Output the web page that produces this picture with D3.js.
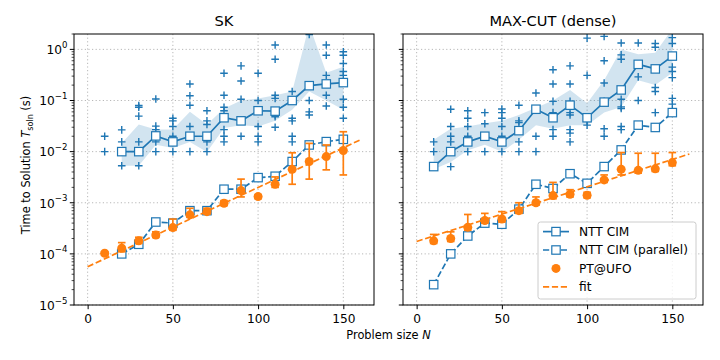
<!DOCTYPE html>
<html><head><meta charset="utf-8">
<script src="https://cdn.jsdelivr.net/npm/d3@7"></script>
<style>body{margin:0;background:#fff} text{font-family:"DejaVu Sans",sans-serif;fill:#000}</style>
</head><body><svg id="c" width="720" height="360"></svg>
<script>
// ---------------- data ----------------
const sizes = [10,20,30,40,50,60,70,80,90,100,110,120,130,140,150];
const xTicks = [0,50,100,150];
const yTicks = [1e-5,1e-4,1e-3,1e-2,1e-1,1];
const yTickLabels = ["\u22125","\u22124","\u22123","\u22122","\u22121","0"];
const panelTitles = ["SK","MAX-CUT (dense)"];
const legendLabels = ["NTT CIM","NTT CIM (parallel)","PT@UFO","fit"];

// SK
const skCimN = [20,30,40,50,60,70,80,90,100,110,120,130,140,150];
const skCim = [0.01,0.01,0.0203,0.0155,0.020,0.020,0.046,0.040,0.063,0.062,0.10,0.195,0.211,0.224];
const skBandLo = [0.0053,0.0053,0.0137,0.0118,0.0155,0.0098,0.029,0.033,0.031,0.040,0.066,0.15,0.10,0.066];
const skBandHi = [0.0146,0.034,0.027,0.027,0.060,0.034,0.070,0.10,0.11,0.127,0.15,3.0,0.35,0.46];
const skParN = [20,30,40,50,60,70,80,90,100,110,120,130,140,150];
const skPar = [1.0e-4,1.54e-4,4.2e-4,4.0e-4,7.0e-4,7.0e-4,1.84e-3,1.84e-3,3.1e-3,3.3e-3,6.4e-3,0.0135,0.0157,0.0174];
const skPt = [1.03e-4,1.29e-4,1.8e-4,2.34e-4,3.27e-4,5.8e-4,6.7e-4,9.8e-4,1.73e-3,1.32e-3,2.3e-3,4.5e-3,6.4e-3,8.0e-3,1.05e-2];
const skPtLo = [0.95e-4,1.1e-4,1.6e-4,2.1e-4,2.9e-4,5.2e-4,6.0e-4,8.8e-4,1.3e-3,1.2e-3,2.0e-3,2.3e-3,2.9e-3,4.4e-3,3.5e-3];
const skPtHi = [1.1e-4,1.66e-4,2.11e-4,2.7e-4,4.8e-4,7.8e-4,7.8e-4,1.1e-3,2.9e-3,1.45e-3,3.2e-3,9.5e-3,1.45e-2,1.35e-2,2.45e-2];
const skFitN = [0,160];
const skFit = [5.6e-5,0.017];
const skInst = [
  [10,[0.02,0.01]],
  [20,[0.0266,0.0155,0.01,0.0053]],
  [30,[0.08,0.074,0.0495,0.0155,0.01,0.0053]],
  [40,[0.107,0.0316,0.027,0.0155,0.01]],
  [50,[0.045,0.04,0.031,0.02,0.0155,0.01]],
  [60,[0.211,0.124,0.081,0.031,0.02,0.01]],
  [70,[0.063,0.04,0.034,0.02,0.0155,0.01]],
  [80,[0.342,0.127,0.074,0.063,0.027,0.02,0.0155]],
  [90,[0.475,0.24,0.106,0.02]],
  [100,[0.342,0.1,0.0656,0.031,0.02,0.0155]],
  [110,[1.22,0.64,0.127,0.11,0.052,0.048,0.03]],
  [120,[0.15,0.045,0.04,0.02,0.0155]],
  [130,[1.95,0.1,0.06,0.052]],
  [140,[1.22,0.77,0.31,0.127,0.078]],
  [150,[0.9,0.77,0.53,0.37,0.31,0.106,0.074,0.045]]
];

// MAX-CUT (dense)
const mcCimN = sizes;
const mcCim = [5.1e-3,0.01,0.0155,0.02,0.0155,0.0257,0.0675,0.046,0.081,0.046,0.093,0.161,0.51,0.415,0.74];
const mcBandLo = [0.0045,0.0063,0.0107,0.0137,0.0099,0.017,0.033,0.028,0.033,0.033,0.058,0.075,0.25,0.20,0.35];
const mcBandHi = [0.017,0.028,0.031,0.036,0.040,0.052,0.072,0.10,0.16,0.088,0.25,1.0,0.8,0.86,2.5];
const mcParN = sizes;
const mcPar = [2.5e-5,1.0e-4,2.24e-4,4.0e-4,3.8e-4,7.5e-4,2.3e-3,1.9e-3,3.7e-3,2.4e-3,5.1e-3,0.0108,0.033,0.0297,0.058];
const mcPt = [1.8e-4,2.0e-4,3.3e-4,4.5e-4,4.8e-4,7.0e-4,1.0e-3,1.38e-3,1.47e-3,1.4e-3,2.8e-3,4.5e-3,4.3e-3,4.6e-3,6.1e-3];
const mcPtLo = [1.6e-4,1.75e-4,2.9e-4,4.0e-4,4.2e-4,6.2e-4,0.9e-3,1.2e-3,1.3e-3,1.25e-3,2.5e-3,3.5e-3,3.8e-3,4.1e-3,5.3e-3];
const mcPtHi = [2.4e-4,2.7e-4,5.9e-4,6.2e-4,6.7e-4,1.0e-3,1.3e-3,2.5e-3,1.8e-3,1.6e-3,3.5e-3,9.6e-3,9.3e-3,9.3e-3,9.6e-3];
const mcFitN = [0,160];
const mcFit = [1.75e-4,9.0e-3];
const mcInst = [
  [10,[0.0155,0.01]],
  [20,[0.0675,0.031,0.02,0.0155,0.0051]],
  [30,[0.063,0.045,0.031,0.02,0.01]],
  [40,[0.058,0.035,0.01]],
  [50,[0.068,0.058,0.045,0.031,0.02,0.01]],
  [60,[0.081,0.04,0.037,0.0155,0.01]],
  [70,[0.14,0.02,0.01]],
  [80,[0.4,0.211,0.096,0.058,0.027,0.02]],
  [90,[0.475,0.211,0.096,0.058,0.052,0.027,0.023,0.0155]],
  [100,[1.66,0.31,0.04,0.033]],
  [110,[1.8,0.6,0.22,0.096,0.028,0.02]],
  [120,[1.33,0.78,0.64,0.106,0.075,0.07,0.031,0.027]],
  [130,[1.33,0.29,0.1]],
  [140,[1.3,1.1,0.18,0.15,0.058]],
  [150,[1.7,1.3,0.45,0.37,0.28,0.11,0.085]]
];

// ---------------- drawing ----------------
const BLUE="#1f77b4", ORANGE="#ff7f0e";
const TICK_FS=12.2, LAB_FS=11.4, TITLE_FS=14.6, LEG_FS=12.2;
const svg = d3.select("#c");
const yTop=34, yBot=305;
const y = d3.scaleLog().domain([1e-5,2]).range([yBot,yTop]);

const panels = [
  {left:74, title:panelTitles[0], cimN:skCimN, cim:skCim, bandLo:skBandLo, bandHi:skBandHi,
   parN:skParN, par:skPar, pt:skPt, ptLo:skPtLo, ptHi:skPtHi, fitN:skFitN, fit:skFit, inst:skInst, labels:true},
  {left:403, title:panelTitles[1], cimN:mcCimN, cim:mcCim, bandLo:mcBandLo, bandHi:mcBandHi,
   parN:mcParN, par:mcPar, pt:mcPt, ptLo:mcPtLo, ptHi:mcPtHi, fitN:mcFitN, fit:mcFit, inst:mcInst, labels:false}
];

const defs = svg.append("defs");

panels.forEach((p,pi)=>{
  const x = d3.scaleLinear().domain([-8,168]).range([p.left,p.left+300]);
  const g = svg.append("g");
  const cid = "clip"+pi;
  defs.append("clipPath").attr("id",cid).append("rect")
    .attr("x",p.left).attr("y",yTop).attr("width",300).attr("height",yBot-yTop);

  // grid
  const grid = g.append("g").attr("stroke","#b0b0b0").attr("stroke-width",0.9).attr("stroke-dasharray","1.2,2.4");
  xTicks.forEach(t=>grid.append("line").attr("x1",x(t)).attr("x2",x(t)).attr("y1",yTop).attr("y2",yBot));
  yTicks.forEach(t=>grid.append("line").attr("x1",p.left).attr("x2",p.left+300).attr("y1",y(t)).attr("y2",y(t)));

  const plot = g.append("g").attr("clip-path",`url(#${cid})`);
  // band
  const bandData = p.cimN.map((n,i)=>({n, lo:p.bandLo[i], hi:p.bandHi[i]}));
  plot.append("path").datum(bandData)
    .attr("d", d3.area().x(d=>x(d.n)).y0(d=>y(d.lo)).y1(d=>y(d.hi)))
    .attr("fill",BLUE).attr("fill-opacity",0.2);
  // instances (+)
  const inst = [];
  p.inst.forEach(([n,vals])=>vals.forEach(v=>inst.push({n,v})));
  plot.append("g").selectAll("path").data(inst).join("path")
    .attr("transform",d=>`translate(${x(d.n)},${y(d.v)})`)
    .attr("d","M-3.8,0H3.8M0,-3.8V3.8")
    .attr("stroke",BLUE).attr("stroke-width",1.4).attr("fill","none");
  // NTT CIM
  const cimData = p.cimN.map((n,i)=>({n,v:p.cim[i]}));
  plot.append("path").datum(cimData)
    .attr("d", d3.line().x(d=>x(d.n)).y(d=>y(d.v)))
    .attr("fill","none").attr("stroke",BLUE).attr("stroke-width",1.7);
  plot.append("g").selectAll("rect").data(cimData).join("rect")
    .attr("x",d=>x(d.n)-4.2).attr("y",d=>y(d.v)-4.2).attr("width",8.4).attr("height",8.4)
    .attr("fill","#fff").attr("stroke",BLUE).attr("stroke-width",1.2);
  // NTT CIM parallel
  const parData = p.parN.map((n,i)=>({n,v:p.par[i]}));
  plot.append("path").datum(parData)
    .attr("d", d3.line().x(d=>x(d.n)).y(d=>y(d.v)))
    .attr("fill","none").attr("stroke",BLUE).attr("stroke-width",1.7).attr("stroke-dasharray","6.2,2.7");
  plot.append("g").selectAll("rect").data(parData).join("rect")
    .attr("x",d=>x(d.n)-4.2).attr("y",d=>y(d.v)-4.2).attr("width",8.4).attr("height",8.4)
    .attr("fill","#fff").attr("stroke",BLUE).attr("stroke-width",1.2);
  // PT@UFO error bars
  const ptData = sizes.map((n,i)=>({n,v:p.pt[i],lo:p.ptLo[i],hi:p.ptHi[i]}));
  const eb = plot.append("g").attr("stroke",ORANGE).attr("stroke-width",1.7);
  ptData.forEach(d=>{
    eb.append("line").attr("x1",x(d.n)).attr("x2",x(d.n)).attr("y1",y(d.lo)).attr("y2",y(d.hi));
    eb.append("line").attr("x1",x(d.n)-3.8).attr("x2",x(d.n)+3.8).attr("y1",y(d.lo)).attr("y2",y(d.lo));
    eb.append("line").attr("x1",x(d.n)-3.8).attr("x2",x(d.n)+3.8).attr("y1",y(d.hi)).attr("y2",y(d.hi));
  });
  plot.append("g").selectAll("circle").data(ptData).join("circle")
    .attr("cx",d=>x(d.n)).attr("cy",d=>y(d.v)).attr("r",4.5).attr("fill",ORANGE);
  // fit
  const fitData = p.fitN.map((n,i)=>({n,v:p.fit[i]}));
  plot.append("path").datum(fitData)
    .attr("d", d3.line().x(d=>x(d.n)).y(d=>y(d.v)))
    .attr("fill","none").attr("stroke",ORANGE).attr("stroke-width",1.7).attr("stroke-dasharray","6.2,2.7");

  // frame
  g.append("rect").attr("x",p.left).attr("y",yTop).attr("width",300).attr("height",yBot-yTop)
    .attr("fill","none").attr("stroke","#000").attr("stroke-width",1);

  // x axis
  const xa = g.append("g").attr("transform",`translate(0,${yBot})`)
    .call(d3.axisBottom(x).tickValues(xTicks).tickSize(4.2).tickSizeOuter(0).tickPadding(5.2));
  xa.select(".domain").remove();
  xa.selectAll("line").attr("stroke-width",1);
  xa.selectAll("text").attr("font-size",TICK_FS).attr("font-family","DejaVu Sans");

  // y axis major + minor
  const ya = g.append("g").attr("transform",`translate(${p.left},0)`);
  yTicks.forEach((t,i)=>{
    ya.append("line").attr("x1",-4.2).attr("x2",0).attr("y1",y(t)).attr("y2",y(t)).attr("stroke","#000").attr("stroke-width",1);
    if(p.labels){
      const tx = ya.append("text").attr("x",-6.5).attr("y",y(t)+4.8).attr("text-anchor","end").attr("font-size",TICK_FS);
      tx.append("tspan").text("10");
      tx.append("tspan").attr("dy",-6.3).attr("font-size",8.6).text(yTickLabels[i]);
    }
  });
  for(let e=-5;e<=0;e++){
    for(let m=2;m<=9;m++){
      const v=m*Math.pow(10,e);
      if(v>2) continue;
      ya.append("line").attr("x1",-2.4).attr("x2",0).attr("y1",y(v)).attr("y2",y(v)).attr("stroke","#000").attr("stroke-width",0.7);
    }
  }

  // title
  g.append("text").attr("x",p.left+150).attr("y",25.7).attr("text-anchor","middle").attr("font-size",TITLE_FS).text(p.title);

  // legend in second panel
  if(pi===1){
    const lg = svg.append("g");
    lg.append("rect").attr("x",538).attr("y",222).attr("width",158).attr("height",77).attr("rx",2.5)
      .attr("fill","#fff").attr("fill-opacity",0.8).attr("stroke","#cccccc").attr("stroke-width",1);
    legendLabels.forEach((lab,i)=>{
      const yy = 231.6+i*18.4;
      const hx0=543, hx1=569, hm=556;
      if(i<2){
        lg.append("line").attr("x1",hx0).attr("x2",hx1).attr("y1",yy).attr("y2",yy)
          .attr("stroke",BLUE).attr("stroke-width",1.7).attr("stroke-dasharray",i===1?"6.2,2.7":null);
        lg.append("rect").attr("x",hm-4.2).attr("y",yy-4.2).attr("width",8.4).attr("height",8.4)
          .attr("fill","#fff").attr("stroke",BLUE).attr("stroke-width",1.2);
      } else if(i===2){
        lg.append("circle").attr("cx",hm).attr("cy",yy).attr("r",4.5).attr("fill",ORANGE);
      } else {
        lg.append("line").attr("x1",hx0).attr("x2",hx1).attr("y1",yy).attr("y2",yy)
          .attr("stroke",ORANGE).attr("stroke-width",1.7).attr("stroke-dasharray","6.2,2.7");
      }
      lg.append("text").attr("x",579).attr("y",yy+4.4).attr("font-size",LEG_FS).text(lab);
    });
  }
});

// axis labels
const xl = svg.append("text").attr("x",388.5).attr("y",339.3).attr("text-anchor","middle").attr("font-size",LAB_FS);
xl.append("tspan").text("Problem size ");
xl.append("tspan").attr("font-style","italic").text("N");

const yl = svg.append("text").attr("transform","translate(30,165) rotate(-90)").attr("text-anchor","middle").attr("font-size",LAB_FS);
yl.append("tspan").text("Time to Solution ");
yl.append("tspan").attr("font-style","italic").text("T");
yl.append("tspan").attr("font-size",8).attr("dy",2.8).text("soln");
yl.append("tspan").attr("dy",-2.8).text(" (s)");
</script>
</body></html>
